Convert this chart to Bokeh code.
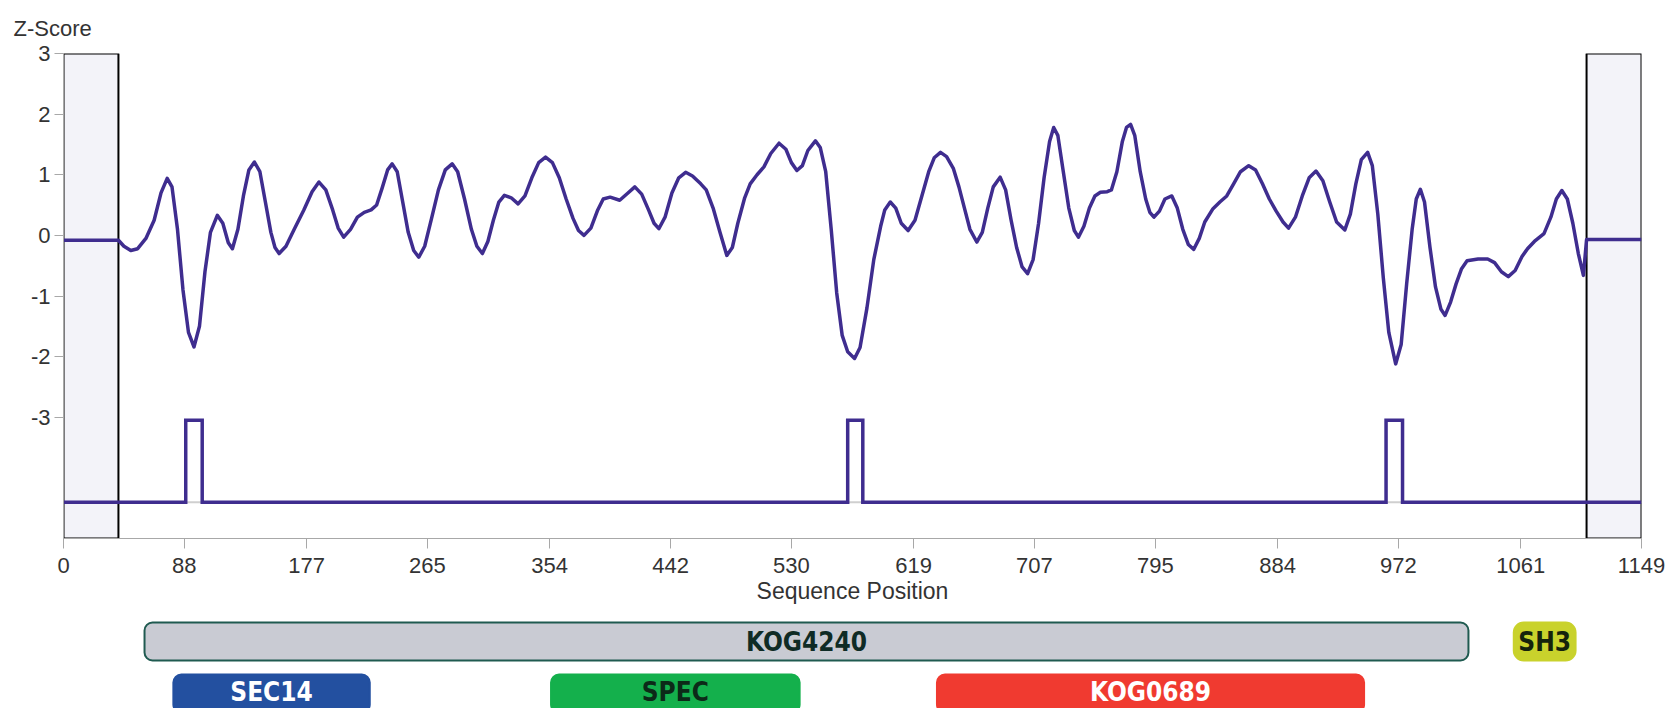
from bokeh.plotting import figure
from bokeh.models import Range1d, FixedTicker, Title
from bokeh.layouts import column
from bokeh.embed import file_html
from bokeh.resources import INLINE
from bokeh.core.properties import value

# ---------------- data ----------------
seq_len = 1149
x_ticks = [0, 88, 177, 265, 354, 442, 530, 619, 707, 795, 884, 972, 1061, 1149]
y_ticks = [-3, -2, -1, 0, 1, 2, 3]
y_min, y_max = -5, 3

mask_left = [0, 1109]
mask_right = [40, 1149]

z_pos = [0, 40, 44, 49, 54, 60, 66, 71, 75.5, 79, 83, 87, 91, 95, 99, 103, 107, 112, 116, 120, 123,
         127, 131, 135, 139, 143, 147, 151, 154, 157, 162, 168, 175, 181, 186, 191, 196, 200, 204,
         209, 214, 219, 224, 228, 232, 236, 239.3, 243, 247, 251, 255, 258.7, 263, 268, 273, 278,
         283, 287, 292, 297, 301, 305, 309, 313, 317, 321, 326, 331, 336, 341, 346, 351, 356, 361,
         366, 371, 375, 379, 384, 389, 393, 398, 405, 411, 416, 421, 426, 430, 433.5, 438, 443, 448,
         453, 458, 464, 468, 473, 478, 483, 487, 491, 496, 500, 505, 510, 515, 521, 526, 530, 534,
         538, 542, 547.5, 551, 555, 559, 563, 567, 571, 576, 580, 585, 590, 595, 598, 602, 606, 610,
         615, 620, 625, 630, 634, 638.6, 643, 648, 652, 656, 660, 665, 669, 673, 677, 682, 686, 690,
         694, 698, 702, 706, 710, 714, 718, 721, 724, 728, 732, 736, 739, 743, 747, 751, 755, 760,
         763, 767, 771, 774, 777, 780, 784, 788, 791, 794, 798, 802, 807, 811, 815, 819, 823, 827,
         831, 837, 842, 847, 852, 857, 863, 868, 873, 878, 883, 888, 892, 897, 902, 907, 912, 917,
         922, 927, 933, 937, 941, 945, 949.6, 953, 957, 961, 965, 970, 974, 978, 982, 985, 988, 991,
         995, 999, 1003, 1006, 1010, 1014, 1018, 1022, 1030, 1037, 1042, 1047, 1052, 1057, 1062,
         1066, 1071, 1078, 1083, 1087, 1091, 1095, 1099, 1103, 1106.7, 1109, 1149]
z_score = [-0.08, -0.08, -0.18, -0.25, -0.22, -0.05, 0.25, 0.70, 0.94, 0.80, 0.10, -0.90, -1.60, -1.84,
           -1.50, -0.60, 0.05, 0.33, 0.20, -0.12, -0.22, 0.10, 0.65, 1.08, 1.21, 1.05, 0.55, 0.05,
           -0.20, -0.30, -0.18, 0.10, 0.42, 0.72, 0.88, 0.75, 0.42, 0.12, -0.03, 0.10, 0.30, 0.38,
           0.42, 0.50, 0.78, 1.08, 1.18, 1.05, 0.55, 0.05, -0.25, -0.36, -0.18, 0.28, 0.75, 1.08,
           1.18, 1.05, 0.60, 0.10, -0.18, -0.30, -0.10, 0.25, 0.55, 0.66, 0.62, 0.52, 0.65, 0.95,
           1.20, 1.29, 1.20, 0.95, 0.60, 0.28, 0.08, 0.00, 0.12, 0.42, 0.60, 0.63, 0.58, 0.70, 0.80,
           0.68, 0.42, 0.20, 0.11, 0.30, 0.70, 0.95, 1.04, 0.98, 0.85, 0.75, 0.45, 0.05, -0.33, -0.20,
           0.20, 0.62, 0.85, 1.00, 1.13, 1.35, 1.52, 1.42, 1.20, 1.07, 1.15, 1.40, 1.56, 1.45, 1.05,
           0.10, -0.95, -1.65, -1.92, -2.03, -1.85, -1.20, -0.40, 0.15, 0.42, 0.55, 0.45, 0.20, 0.08,
           0.25, 0.65, 1.05, 1.28, 1.37, 1.30, 1.10, 0.80, 0.45, 0.10, -0.11, 0.05, 0.45, 0.80, 0.96,
           0.75, 0.25, -0.20, -0.52, -0.63, -0.40, 0.20, 0.95, 1.55, 1.78, 1.65, 1.05, 0.45, 0.08,
           -0.03, 0.15, 0.45, 0.65, 0.71, 0.72, 0.75, 1.05, 1.55, 1.78, 1.83, 1.65, 1.05, 0.60, 0.38,
           0.30, 0.40, 0.60, 0.65, 0.45, 0.10, -0.15, -0.23, -0.05, 0.22, 0.44, 0.55, 0.65, 0.85,
           1.05, 1.15, 1.08, 0.85, 0.60, 0.40, 0.22, 0.12, 0.30, 0.65, 0.95, 1.06, 0.90, 0.55, 0.22,
           0.09, 0.35, 0.85, 1.25, 1.37, 1.15, 0.35, -0.70, -1.60, -2.12, -1.80, -0.80, 0.10, 0.60,
           0.76, 0.55, -0.20, -0.85, -1.22, -1.32, -1.10, -0.80, -0.55, -0.42, -0.39, -0.39, -0.45,
           -0.60, -0.68, -0.58, -0.35, -0.22, -0.10, 0.03, 0.30, 0.60, 0.74, 0.60, 0.20, -0.30, -0.66,
           -0.07, -0.07]

pulse_starts = [89, 571, 963]
pulse_ends = [101, 582, 975]
pulse_low = -4.4
pulse_high = -3.05

dom_names = ["KOG4240", "SH3", "SEC14", "SPEC", "KOG0689"]
dom_start = [59, 1056, 80, 355, 636]
dom_end = [1023, 1101, 223, 536, 947]
dom_row = [0, 0, 1, 1, 1]

# ---------------- styles ----------------
dom_fill = ["#c9cbd3", "#c9d22c", "#2350a0", "#14b04c", "#f03a30"]
dom_line = ["#1f5a50", "#c9d22c", "#2350a0", "#14b04c", "#f03a30"]
dom_text = ["#0f2b25", "#15220c", "#ffffff", "#0c2a18", "#ffffff"]
dom_radius = [8, 10, 8, 8, 8]
row_bottom = [48, -4]
row_top = [86, 34]
row_text_y = [67, 17]

LINE = "#3f2d8f"
FONT = "Liberation Sans"
BAR_FONT = "DejaVu Sans Condensed, Liberation Sans Narrow, DejaVu Sans, sans-serif"

# ---------------- main plot ----------------
p = figure(width=1670, height=612, x_range=Range1d(0, seq_len), y_range=Range1d(y_min, y_max),
           output_backend="svg", toolbar_location=None,
           min_border_left=63, min_border_right=29, min_border_top=53, min_border_bottom=74)
p.outline_line_color = None
p.grid.visible = False
p.background_fill_color = "white"

p.add_layout(Title(text="Z-Score", align="left", offset=-50, standoff=26,
                   text_font=FONT, text_font_size="22px", text_font_style="normal",
                   text_color="#333333"), "above")

p.quad(left=mask_left, right=mask_right, bottom=y_min, top=y_max,
       fill_color="#f3f3f9", line_color="black", line_width=2)

# step (pulse) track
sx = [0]
sy = [pulse_low]
for s, e in zip(pulse_starts, pulse_ends):
    sx += [s, s, e, e]
    sy += [pulse_low, pulse_high, pulse_high, pulse_low]
sx.append(seq_len)
sy.append(pulse_low)
p.line([0, seq_len], [pulse_low, pulse_low], line_color="#cfcfcf", line_width=2)
p.line(sx, sy, line_color=LINE, line_width=3.5, line_join="miter")

# z-score curve
p.line(z_pos, z_score, line_color=LINE, line_width=3.5, line_join="round")

for ax in (p.xaxis, p.yaxis):
    ax.axis_line_color = "#a8a8a8"
    ax.major_tick_line_color = "#a8a8a8"
    ax.minor_tick_line_color = None
    ax.major_tick_in = 0
    ax.major_label_text_font = FONT
    ax.major_label_text_font_size = "22px"
    ax.major_label_text_color = "#333333"

p.xaxis.ticker = FixedTicker(ticks=x_ticks)
p.xaxis.major_tick_out = 10
p.xaxis.major_label_standoff = 9
p.xaxis.axis_label = "Sequence Position"
p.xaxis.axis_label_text_font = FONT
p.xaxis.axis_label_text_font_size = "23px"
p.xaxis.axis_label_text_font_style = "normal"
p.xaxis.axis_label_text_color = "#333333"
p.xaxis.axis_label_standoff = 2

p.yaxis.ticker = FixedTicker(ticks=y_ticks)
p.yaxis.major_label_overrides = {t: str(t) for t in y_ticks}
p.yaxis.major_tick_out = 9
p.yaxis.major_label_standoff = 4

# ---------------- domain track ----------------
p2 = figure(width=1670, height=96, x_range=p.x_range, y_range=Range1d(0, 96),
            output_backend="svg", toolbar_location=None,
            x_axis_location=None, y_axis_location=None,
            min_border_left=63, min_border_right=29, min_border_top=0, min_border_bottom=0)
p2.outline_line_color = None
p2.grid.visible = False

for i, name in enumerate(dom_names):
    r = dom_row[i]
    p2.quad(left=dom_start[i], right=dom_end[i], bottom=row_bottom[r], top=row_top[r],
            fill_color=dom_fill[i], line_color=dom_line[i], line_width=2,
            border_radius=dom_radius[i])
    p2.text(x=[(dom_start[i] + dom_end[i]) / 2], y=[row_text_y[r]],
            text=[name], text_font=value(BAR_FONT), text_font_size="26px", text_font_style="bold",
            text_color=dom_text[i], text_align="center", text_baseline="middle")

layout = column(p, p2, spacing=0)
open("out.html", "w").write(file_html(layout, INLINE))
